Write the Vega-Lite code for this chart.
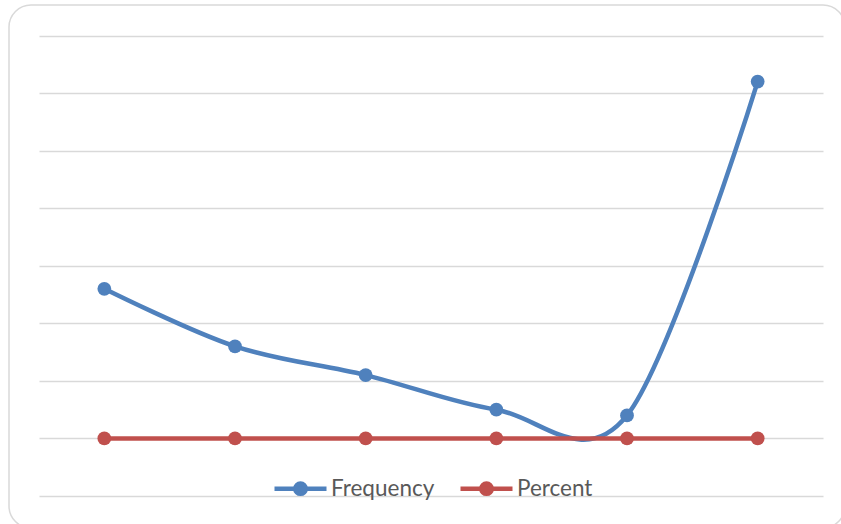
{
  "$schema": "https://vega.github.io/schema/vega-lite/v6.json",
  "autosize": {"type": "none"},
  "width": 836,
  "height": 523,
  "padding": {"left": 9, "top": 5, "right": -4, "bottom": -4},
  "background": "white",
  "config": {
    "view": {"stroke": "#d9d9d9", "strokeWidth": 1.5, "cornerRadius": 22},
    "font": "Lato"
  },
  "data": {
    "values": [
      {"group": "1", "series": "Frequency", "value": 26},
      {"group": "2", "series": "Frequency", "value": 16},
      {"group": "3", "series": "Frequency", "value": 11},
      {"group": "4", "series": "Frequency", "value": 5},
      {"group": "5", "series": "Frequency", "value": 4},
      {"group": "6", "series": "Frequency", "value": 62},
      {"group": "1", "series": "Percent", "value": 0},
      {"group": "2", "series": "Percent", "value": 0},
      {"group": "3", "series": "Percent", "value": 0},
      {"group": "4", "series": "Percent", "value": 0},
      {"group": "5", "series": "Percent", "value": 0},
      {"group": "6", "series": "Percent", "value": 0}
    ]
  },
  "encoding": {
    "x": {
      "field": "group",
      "type": "ordinal",
      "sort": null,
      "scale": {"type": "point", "range": [30, 814], "padding": 0.5},
      "axis": null
    },
    "y": {
      "field": "value",
      "type": "quantitative",
      "scale": {"domain": [-10, 70], "range": [491, 30.5], "nice": false, "zero": false},
      "axis": {
        "title": null,
        "labels": false,
        "ticks": false,
        "domain": false,
        "grid": true,
        "gridColor": "#d9d9d9",
        "gridWidth": 1.5,
        "values": [-10, 0, 10, 20, 30, 40, 50, 60, 70]
      }
    },
    "color": {
      "field": "series",
      "type": "nominal",
      "scale": {"domain": ["Frequency", "Percent"], "range": ["#4f81bd", "#c0504d"]},
      "legend": {
        "title": null,
        "orient": "none",
        "legendX": 263,
        "legendY": 455,
        "direction": "horizontal",
        "symbolType": "M-1,0L1,0M-0.2,0A0.2,0.2 0 1,0 0.2,0A0.2,0.2 0 1,0 -0.2,0Z",
        "symbolSize": 2704,
        "symbolStrokeWidth": 4.5,
        "labelFontSize": 22.5,
        "labelColor": "#595959",
        "labelFont": "Lato",
        "labelOffset": 2,
        "columnPadding": 16,
        "symbolOffset": 0,
        "padding": 0
      }
    }
  },
  "layer": [
    {
      "transform": [{"filter": "datum.series === 'Frequency'"}],
      "mark": {"type": "line", "interpolate": "cardinal", "tension": 0, "strokeWidth": 4.5, "strokeCap": "round"}
    },
    {
      "transform": [{"filter": "datum.series === 'Percent'"}],
      "mark": {"type": "line", "strokeWidth": 4.5}
    },
    {
      "mark": {"type": "circle", "size": 190, "opacity": 1}
    }
  ]
}
